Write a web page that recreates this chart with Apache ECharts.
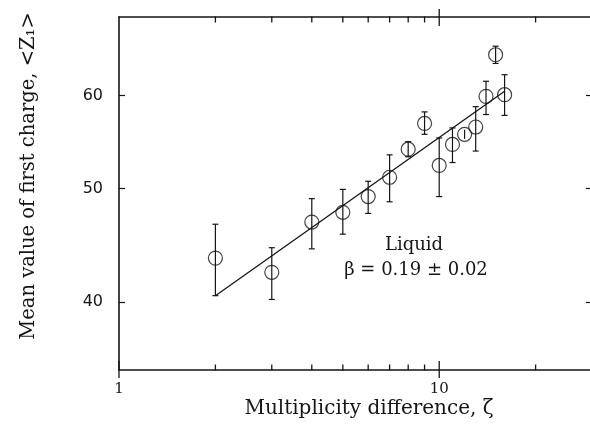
<!DOCTYPE html>
<html>
<head>
<meta charset="utf-8">
<script src="https://cdn.jsdelivr.net/npm/echarts@6/dist/echarts.min.js"></script>
<style>html,body{margin:0;padding:0;background:#fff}#c{width:590px;height:432px}</style>
</head>
<body>
<div id="c"></div>
<script>
// Multiplicity difference ζ
const zeta = [2, 3, 4, 5, 6, 7, 8, 9, 10, 11, 12, 13, 14, 15, 16];
// Mean value of first charge <Z1>
const meanZ = [43.6, 42.4, 46.8, 47.7, 49.2, 51.1, 54.0, 56.8, 52.3, 54.5, 55.6, 56.4, 59.9, 65.0, 60.1];
const errLow = [40.5, 40.2, 44.4, 45.7, 47.6, 48.7, 53.2, 55.6, 49.2, 52.6, 55.1, 53.8, 57.8, 63.9, 57.7];
const errHigh = [46.6, 44.5, 49.0, 49.9, 50.7, 53.4, 54.8, 58.1, 55.2, 56.3, 56.1, 58.7, 61.7, 66.1, 62.5];
// Fit line (β = 0.19)
const fitX = [2, 16];
const fitY = [40.5, 60.5];
// Tick labels / tick positions
const xLabelTicks = [1, 10];
const xMajorTicks = [1, 10];
const xMinorTicks = [2, 3, 4, 5, 6, 7, 8, 9, 20];
const yTicks = [40, 50, 60];

const INK = '#151515';
const X_MIN = 1, X_MAX = 30, Y_MIN = 35, Y_MAX = 70;

const chart = echarts.init(document.getElementById('c'), null, { renderer: 'canvas' });
const points = zeta.map((z, i) => [z, meanZ[i]]);
const bars = zeta.map((z, i) => [z, errLow[i], errHigh[i]]);
const fit = fitX.map((x, i) => [x, fitY[i]]);
// [x value, y value on bottom edge, kind: 1 = major, 0 = minor]
const tickData = xMinorTicks.map(v => [v, Y_MIN, 0]).concat(xMajorTicks.map(v => [v, Y_MIN, 1]));

function xAx(pos, labels) {
  return {
    type: 'log', min: X_MIN, max: X_MAX, position: pos,
    axisLine: { show: true, lineStyle: { color: INK, width: 1.6 } },
    axisTick: { show: false },
    axisLabel: labels ? { show: true, customValues: labels, color: INK, fontFamily: 'DejaVu Serif', fontSize: 15, margin: 12 } : { show: false },
    splitLine: { show: false }, minorTick: { show: false }
  };
}
function yAx(pos, showLabels) {
  return {
    type: 'log', min: Y_MIN, max: Y_MAX, position: pos,
    axisLine: { show: true, lineStyle: { color: INK, width: 1.6 } },
    axisTick: { show: true, inside: true, length: 6, customValues: yTicks, lineStyle: { color: INK, width: 1.2 } },
    axisLabel: showLabels ? { show: true, customValues: yTicks, color: INK, fontFamily: 'DejaVu Sans', fontSize: 16, margin: 16 } : { show: false },
    splitLine: { show: false }, minorTick: { show: false }
  };
}

chart.setOption({
  animation: false,
  backgroundColor: '#fff',
  grid: { left: 119, top: 17, width: 473, height: 353, containLabel: false, outerBoundsMode: 'none' },
  xAxis: [xAx('bottom', xLabelTicks), xAx('top', null)],
  yAxis: [yAx('left', true), yAx('right', false)],
  graphic: [
    { type: 'text', x: 369, y: 409, style: { text: 'Multiplicity difference, ζ', font: '20px "DejaVu Serif"', fill: INK, align: 'center', verticalAlign: 'middle' } },
    { type: 'text', x: 29, y: 176, rotation: Math.PI / 2, style: { text: 'Mean value of first charge, <Z₁>', font: '19.5px "DejaVu Serif"', fill: INK, align: 'center', verticalAlign: 'middle' } },
    { type: 'text', x: 414, y: 245, style: { text: 'Liquid', font: '18px "DejaVu Serif"', fill: INK, align: 'center', verticalAlign: 'middle' } },
    { type: 'text', x: 416, y: 270, style: { text: 'β = 0.19 ± 0.02', font: '18px "DejaVu Serif"', fill: INK, align: 'center', verticalAlign: 'middle' } }
  ],
  series: [
    {
      // x-axis tick marks (bottom and top frame), positioned through the log scale
      type: 'custom', data: tickData, xAxisIndex: 0, yAxisIndex: 0, silent: true, clip: false, z: 5,
      renderItem: function (params, api) {
        const x = api.value(0);
        const major = api.value(2) === 1;
        const b = api.coord([x, Y_MIN]);
        const t = api.coord([x, Y_MAX]);
        const st = { stroke: INK, lineWidth: 1.3 };
        const inLen = major ? 9 : 5.5, outLen = major ? 8 : 0.5;
        const ch = [
          { type: 'line', shape: { x1: b[0], y1: b[1] + outLen, x2: b[0], y2: b[1] - inLen }, style: st }
        ];
        if (x > X_MIN) {
          ch.push({ type: 'line', shape: { x1: t[0], y1: t[1] - outLen, x2: t[0], y2: t[1] + inLen }, style: st });
        }
        return { type: 'group', children: ch };
      }
    },
    {
      type: 'line', data: fit, xAxisIndex: 0, yAxisIndex: 0, symbol: 'none',
      lineStyle: { color: INK, width: 1.3 }, silent: true
    },
    {
      type: 'custom', data: bars, xAxisIndex: 0, yAxisIndex: 0,
      renderItem: function (params, api) {
        const x = api.value(0);
        const pLo = api.coord([x, api.value(1)]);
        const pHi = api.coord([x, api.value(2)]);
        const w = 3;
        const st = { stroke: INK, lineWidth: 1.2 };
        const children = [
          { type: 'line', shape: { x1: pLo[0], y1: pLo[1], x2: pHi[0], y2: pHi[1] }, style: st }
        ];
        if (Math.abs(pLo[1] - pHi[1]) > 15) {
          children.push({ type: 'line', shape: { x1: pLo[0] - w, y1: pLo[1], x2: pLo[0] + w, y2: pLo[1] }, style: st });
          children.push({ type: 'line', shape: { x1: pHi[0] - w, y1: pHi[1], x2: pHi[0] + w, y2: pHi[1] }, style: st });
        }
        return { type: 'group', children: children };
      }
    },
    {
      type: 'scatter', data: points, xAxisIndex: 0, yAxisIndex: 0,
      symbol: 'circle', symbolSize: 14,
      itemStyle: { color: 'rgba(0,0,0,0)', borderColor: INK, borderWidth: 1.2 }
    }
  ]
});
</script>
</body>
</html>
